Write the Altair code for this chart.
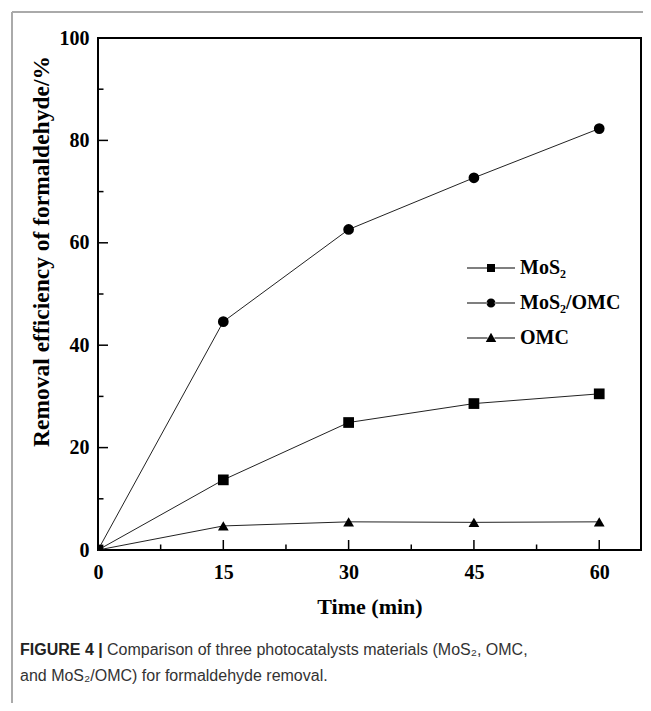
import altair as alt
import pandas as pd

# ---- data ----
times = [0, 15, 30, 45, 60]
mos2 = [0, 13.7, 24.9, 28.6, 30.5]
mos2_omc = [0, 44.6, 62.6, 72.7, 82.3]
omc = [0, 4.7, 5.5, 5.4, 5.5]
series_names = ["MoS₂", "MoS₂/OMC", "OMC"]

x_major = [0, 15, 30, 45, 60]
x_minor = [7.5, 22.5, 37.5, 52.5]
y_major = [0, 20, 40, 60, 80, 100]
y_minor = [10, 30, 50, 70, 90]

caption_bold = "FIGURE 4 |"
caption_1 = "Comparison of three photocatalysts materials (MoS₂, OMC,"
caption_2 = "and MoS₂/OMC) for formaldehyde removal."

W, H = 543, 512
SERIF = "Liberation Serif"

rows = []
for name, vals in zip(series_names, [mos2, mos2_omc, omc]):
    for t, v in zip(times, vals):
        rows.append({"time": t, "eff": v, "series": name})
df = pd.DataFrame(rows)

xs = alt.Scale(domain=[0, 65], nice=False)
ys = alt.Scale(domain=[0, 100], nice=False)

base = alt.Chart(df)

lines = base.mark_line(color="#222", strokeWidth=1).encode(
    x=alt.X("time:Q", scale=xs,
            axis=alt.Axis(values=x_major, title="Time (min)", ticks=False, domain=False, grid=False,
                          labelFlush=False, labelFont=SERIF, labelFontWeight="bold", labelFontSize=20,
                          labelColor="black", labelPadding=12, titleFont=SERIF, titleFontWeight="bold",
                          titleFontSize=22, titleColor="black", titleY=56, titleBaseline="middle")),
    y=alt.Y("eff:Q", scale=ys,
            axis=alt.Axis(values=y_major, title="Removal efficiency of formaldehyde/%", ticks=False,
                          domain=False, grid=False, labelFlush=False, labelFont=SERIF,
                          labelFontWeight="bold", labelFontSize=20, labelColor="black", labelPadding=9,
                          titleFont=SERIF, titleFontWeight="bold", titleFontSize=23.5, titleColor="black",
                          titleX=-57, titleY=213, titleAngle=270, titleAlign="center",
                          titleBaseline="middle")),
    detail="series:N",
)

points = base.mark_point(filled=True, color="black", opacity=1, size=115, clip=True).encode(
    x=alt.X("time:Q", scale=xs),
    y=alt.Y("eff:Q", scale=ys),
    shape=alt.Shape("series:N", scale=alt.Scale(domain=series_names,
                                                range=["square", "circle", "triangle-up"]),
                    legend=None),
)

# legend glyphs: thin filled bars either side of the marker ("—■—")
bars = "M-4.8,-0.11H-0.7V0.11H-4.8ZM0.7,-0.11H4.8V0.11H0.7Z"
leg_paths = [
    bars + "M-0.8,-0.8H0.8V0.8H-0.8Z",
    bars + "M-0.9,0A0.9,0.9,0,1,0,0.9,0A0.9,0.9,0,1,0,-0.9,0Z",
    bars + "M0,-1.05L1.05,0.8H-1.05Z",
]
legend_layer = base.mark_point(filled=True, color="black", opacity=0).encode(
    x=alt.X("time:Q", scale=xs),
    y=alt.Y("eff:Q", scale=ys),
    shape=alt.Shape("series:N", scale=alt.Scale(domain=series_names, range=leg_paths),
                    legend=alt.Legend(orient="none", legendX=383, legendY=220, title=None,
                                      symbolSize=100, symbolStrokeWidth=0, symbolFillColor="black",
                                      symbolOpacity=1,
                                      labelFont=SERIF, labelFontWeight="bold", labelFontSize=20,
                                      labelColor="black", labelOffset=19, rowPadding=15, padding=0)),
)

xt_major = alt.Chart(pd.DataFrame({"v": x_major[1:]})).mark_rule(color="black", strokeWidth=1.5).encode(
    x=alt.X("v:Q", scale=xs), y=alt.value(H), y2=alt.value(H - 10))
xt_minor = alt.Chart(pd.DataFrame({"v": x_minor})).mark_rule(color="black", strokeWidth=1.5).encode(
    x=alt.X("v:Q", scale=xs), y=alt.value(H), y2=alt.value(H - 5.5))
yt_major = alt.Chart(pd.DataFrame({"v": y_major[1:]})).mark_rule(color="black", strokeWidth=1.5).encode(
    y=alt.Y("v:Q", scale=ys), x=alt.value(0), x2=alt.value(10))
yt_minor = alt.Chart(pd.DataFrame({"v": y_minor})).mark_rule(color="black", strokeWidth=1.5).encode(
    y=alt.Y("v:Q", scale=ys), x=alt.value(0), x2=alt.value(5.5))

one = pd.DataFrame({"a": [0]})
frame_v = alt.Chart(one).mark_rule(color="#aaaaaa", strokeWidth=2).encode(
    x=alt.value(-86), y=alt.value(-26), y2=alt.value(H + 170))
frame_h = alt.Chart(one).mark_rule(color="#aaaaaa", strokeWidth=2).encode(
    x=alt.value(-86), x2=alt.value(W + 10), y=alt.value(-26))

cap_b = alt.Chart(one).mark_text(align="left", baseline="middle", font="Liberation Sans",
                                 fontWeight="bold", fontSize=16, color="#222").encode(
    x=alt.value(-78), y=alt.value(612), text=alt.value(caption_bold))
cap_1 = alt.Chart(one).mark_text(align="left", baseline="middle", font="Liberation Sans",
                                 fontSize=16, color="#333").encode(
    x=alt.value(9), y=alt.value(612), text=alt.value(caption_1))
cap_2 = alt.Chart(one).mark_text(align="left", baseline="middle", font="Liberation Sans",
                                 fontSize=16, color="#333").encode(
    x=alt.value(-78), y=alt.value(638), text=alt.value(caption_2))

chart = alt.layer(
    frame_v, frame_h, lines, points, legend_layer,
    xt_major, xt_minor, yt_major, yt_minor, cap_b, cap_1, cap_2,
).resolve_scale(shape="independent").properties(
    width=W, height=H,
    padding={"left": 90, "top": 30, "right": 2, "bottom": 153},
    autosize=alt.AutoSizeParams(type="none"),
).configure(background="white").configure_view(stroke="black", strokeWidth=2)

chart.save("out.html", embed_options={"renderer": "svg", "actions": False})
